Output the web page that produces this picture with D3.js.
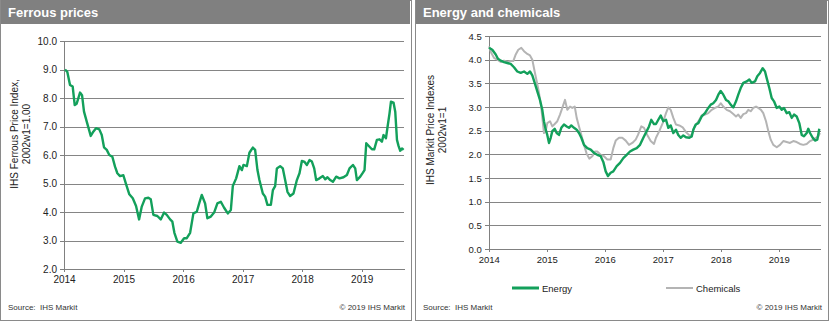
<!DOCTYPE html>
<html>
<head>
<meta charset="utf-8">
<script src="https://cdn.jsdelivr.net/npm/d3@7"></script>
<style>
  body { margin: 0; background: #fff; }
  text { font-family: Arial, "Liberation Sans", sans-serif; }
</style>
</head>
<body>
<div id="chart"></div>
<script>
// 1. Data
const yearTicks = [2014, 2015, 2016, 2017, 2018, 2019];
const ferrousTicks = [2, 3, 4, 5, 6, 7, 8, 9, 10];
const energyTicks = [0, 0.5, 1, 1.5, 2, 2.5, 3, 3.5, 4, 4.5];

// [decimal year, index value]
const ferrous = [
  [2014.017, 9.0], [2014.055, 8.92], [2014.101, 8.46], [2014.146, 8.4], [2014.180, 7.75],
  [2014.213, 7.8], [2014.269, 8.19], [2014.303, 8.1], [2014.336, 7.52], [2014.382, 7.17],
  [2014.449, 6.67], [2014.492, 6.82], [2014.538, 6.94], [2014.593, 6.9], [2014.634, 6.7],
  [2014.672, 6.27], [2014.718, 6.18], [2014.761, 6.0], [2014.812, 5.94], [2014.857, 5.59],
  [2014.896, 5.36], [2014.941, 5.26], [2014.997, 5.29], [2015.042, 4.98], [2015.097, 4.62],
  [2015.155, 4.48], [2015.210, 4.21], [2015.261, 3.74], [2015.306, 4.19], [2015.361, 4.48],
  [2015.417, 4.5], [2015.457, 4.45], [2015.501, 3.9], [2015.568, 3.86], [2015.625, 3.74],
  [2015.681, 3.98], [2015.726, 3.9], [2015.782, 3.74], [2015.820, 3.66], [2015.854, 3.27],
  [2015.904, 2.96], [2015.961, 2.92], [2016.017, 3.08], [2016.062, 3.08], [2016.118, 3.27],
  [2016.173, 3.95], [2016.230, 4.01], [2016.274, 4.33], [2016.314, 4.6], [2016.370, 4.3],
  [2016.408, 3.78], [2016.466, 3.84], [2016.521, 3.98], [2016.576, 4.3], [2016.634, 4.36],
  [2016.689, 4.15], [2016.751, 3.95], [2016.802, 4.07], [2016.835, 4.91], [2016.891, 5.18],
  [2016.946, 5.61], [2016.987, 5.47], [2017.013, 5.65], [2017.071, 5.61], [2017.114, 6.08],
  [2017.171, 6.26], [2017.210, 6.18], [2017.249, 5.47], [2017.282, 5.12], [2017.339, 4.65],
  [2017.378, 4.54], [2017.417, 4.25], [2017.474, 4.25], [2017.508, 4.77], [2017.546, 4.91],
  [2017.575, 5.53], [2017.630, 5.61], [2017.675, 5.53], [2017.714, 5.12], [2017.753, 4.71],
  [2017.798, 4.56], [2017.854, 4.65], [2017.911, 5.12], [2017.955, 5.36], [2017.995, 5.79],
  [2018.034, 5.77], [2018.079, 5.65], [2018.123, 5.82], [2018.163, 5.77], [2018.202, 5.53],
  [2018.235, 5.12], [2018.291, 5.18], [2018.348, 5.26], [2018.387, 5.15], [2018.425, 5.22],
  [2018.471, 5.12], [2018.516, 5.06], [2018.571, 5.24], [2018.627, 5.18], [2018.694, 5.22],
  [2018.751, 5.3], [2018.795, 5.53], [2018.852, 5.65], [2018.891, 5.53], [2018.919, 5.12],
  [2018.975, 5.24], [2019.020, 5.38], [2019.047, 5.47], [2019.076, 6.41], [2019.131, 6.29],
  [2019.171, 6.2], [2019.210, 6.2], [2019.255, 6.53], [2019.299, 6.55], [2019.339, 6.47],
  [2019.366, 6.7], [2019.407, 6.59], [2019.434, 6.99], [2019.467, 7.46], [2019.491, 7.87],
  [2019.534, 7.84], [2019.563, 7.52], [2019.592, 6.53], [2019.618, 6.32], [2019.647, 6.15],
  [2019.676, 6.23], [2019.703, 6.18]
];

const energy = [
  [2014.005, 4.25], [2014.062, 4.21], [2014.121, 4.11], [2014.160, 4.02], [2014.207, 3.98],
  [2014.264, 3.95], [2014.321, 3.93], [2014.379, 3.91], [2014.436, 3.84], [2014.493, 3.75],
  [2014.552, 3.72], [2014.609, 3.75], [2014.666, 3.70], [2014.712, 3.75], [2014.752, 3.67],
  [2014.793, 3.51], [2014.838, 3.33], [2014.884, 3.15], [2014.924, 2.94], [2014.953, 2.70],
  [2014.983, 2.52], [2015.010, 2.41], [2015.040, 2.24], [2015.069, 2.35], [2015.097, 2.49],
  [2015.138, 2.54], [2015.172, 2.45], [2015.212, 2.41], [2015.252, 2.56], [2015.298, 2.63],
  [2015.345, 2.59], [2015.384, 2.56], [2015.424, 2.61], [2015.471, 2.56], [2015.517, 2.52],
  [2015.557, 2.45], [2015.597, 2.35], [2015.643, 2.20], [2015.700, 2.13], [2015.759, 2.10],
  [2015.816, 2.03], [2015.872, 1.99], [2015.931, 1.96], [2015.976, 1.84], [2016.017, 1.64],
  [2016.057, 1.54], [2016.103, 1.61], [2016.148, 1.64], [2016.207, 1.75], [2016.264, 1.82],
  [2016.321, 1.92], [2016.379, 1.99], [2016.436, 2.06], [2016.493, 2.10], [2016.552, 2.13],
  [2016.609, 2.20], [2016.666, 2.35], [2016.724, 2.49], [2016.764, 2.59], [2016.803, 2.73],
  [2016.850, 2.64], [2016.884, 2.64], [2016.924, 2.73], [2016.966, 2.82], [2017.010, 2.70],
  [2017.057, 2.73], [2017.097, 2.56], [2017.138, 2.61], [2017.183, 2.45], [2017.229, 2.52],
  [2017.269, 2.41], [2017.310, 2.35], [2017.355, 2.40], [2017.402, 2.36], [2017.459, 2.35],
  [2017.500, 2.38], [2017.528, 2.52], [2017.569, 2.63], [2017.614, 2.66], [2017.672, 2.80],
  [2017.729, 2.87], [2017.786, 2.98], [2017.828, 3.05], [2017.872, 3.08], [2017.919, 3.15],
  [2017.959, 3.26], [2018.000, 3.34], [2018.045, 3.26], [2018.091, 3.15], [2018.131, 3.12],
  [2018.172, 3.05], [2018.217, 2.99], [2018.264, 3.12], [2018.303, 3.26], [2018.345, 3.40],
  [2018.390, 3.51], [2018.448, 3.54], [2018.493, 3.58], [2018.534, 3.51], [2018.591, 3.54],
  [2018.631, 3.65], [2018.678, 3.72], [2018.724, 3.82], [2018.764, 3.75], [2018.793, 3.61],
  [2018.838, 3.40], [2018.879, 3.19], [2018.919, 3.12], [2018.966, 2.98], [2019.010, 3.01],
  [2019.052, 2.94], [2019.091, 2.98], [2019.138, 2.87], [2019.183, 2.89], [2019.224, 2.77],
  [2019.264, 2.84], [2019.310, 2.80], [2019.355, 2.66], [2019.397, 2.41], [2019.436, 2.38],
  [2019.483, 2.45], [2019.510, 2.54], [2019.540, 2.45], [2019.586, 2.35], [2019.626, 2.29],
  [2019.666, 2.31], [2019.700, 2.54]
];

const chemicals = [
  [2014.005, 4.28], [2014.045, 4.14], [2014.091, 4.04], [2014.148, 4.0], [2014.207, 3.95],
  [2014.264, 3.98], [2014.321, 3.95], [2014.379, 3.97], [2014.424, 3.97], [2014.466, 4.11],
  [2014.510, 4.21], [2014.562, 4.25], [2014.609, 4.18], [2014.666, 4.12], [2014.712, 4.09],
  [2014.752, 4.0], [2014.781, 3.82], [2014.828, 3.54], [2014.867, 3.30], [2014.907, 2.98],
  [2014.931, 2.70], [2014.953, 2.45], [2014.983, 2.49], [2015.010, 2.66], [2015.057, 2.70],
  [2015.097, 2.59], [2015.138, 2.64], [2015.183, 2.70], [2015.229, 2.84], [2015.269, 2.98],
  [2015.316, 3.15], [2015.355, 2.94], [2015.402, 3.01], [2015.441, 2.98], [2015.483, 3.01],
  [2015.517, 2.77], [2015.557, 2.59], [2015.597, 2.41], [2015.643, 2.20], [2015.690, 2.01],
  [2015.734, 1.91], [2015.786, 1.96], [2015.833, 2.06], [2015.872, 2.06], [2015.931, 1.99],
  [2015.988, 1.96], [2016.045, 1.89], [2016.103, 1.89], [2016.148, 2.13], [2016.190, 2.29],
  [2016.247, 2.35], [2016.303, 2.35], [2016.362, 2.29], [2016.419, 2.20], [2016.476, 2.24],
  [2016.534, 2.31], [2016.574, 2.41], [2016.631, 2.59], [2016.678, 2.56], [2016.734, 2.41],
  [2016.793, 2.28], [2016.850, 2.22], [2016.884, 2.35], [2016.941, 2.49], [2017.000, 2.66],
  [2017.057, 2.87], [2017.097, 2.99], [2017.138, 2.94], [2017.183, 2.77], [2017.229, 2.63],
  [2017.286, 2.61], [2017.345, 2.57], [2017.402, 2.47], [2017.459, 2.40], [2017.500, 2.41],
  [2017.540, 2.56], [2017.586, 2.64], [2017.631, 2.73], [2017.672, 2.82], [2017.729, 2.84],
  [2017.786, 2.87], [2017.845, 2.94], [2017.902, 2.98], [2017.959, 3.01], [2018.000, 3.08],
  [2018.045, 3.01], [2018.103, 2.94], [2018.160, 2.91], [2018.217, 2.85], [2018.264, 2.80],
  [2018.303, 2.84], [2018.345, 2.77], [2018.390, 2.85], [2018.436, 2.87], [2018.476, 2.94],
  [2018.517, 2.91], [2018.562, 2.98], [2018.609, 3.01], [2018.648, 2.98], [2018.695, 2.94],
  [2018.734, 2.87], [2018.781, 2.70], [2018.821, 2.49], [2018.862, 2.31], [2018.907, 2.20],
  [2018.966, 2.15], [2019.022, 2.20], [2019.079, 2.28], [2019.138, 2.26], [2019.195, 2.24],
  [2019.252, 2.28], [2019.310, 2.26], [2019.367, 2.22], [2019.424, 2.20], [2019.483, 2.22],
  [2019.540, 2.28], [2019.597, 2.31], [2019.643, 2.35], [2019.683, 2.38], [2019.712, 2.45]
];

const GREEN = "#13a05b";
const GREY_LINE = "#b4b4b4";

// 2. Dimensions
const width = 834;
const height = 325;

const svg = d3
  .select("#chart")
  .append("svg")
  .attr("width", width)
  .attr("height", height);

function drawPanel(p) {
  const g = svg.append("g");

  // frame + title bar
  g.append("rect")
    .attr("x", p.frame[0] + 0.5)
    .attr("y", 0.5)
    .attr("width", p.frame[1] - p.frame[0])
    .attr("height", 320)
    .attr("fill", "#fff")
    .attr("stroke", "#8a8a8a");
  g.append("rect")
    .attr("x", p.frame[0] + 1)
    .attr("y", 0)
    .attr("width", p.frame[1] - p.frame[0] - 2)
    .attr("height", 24)
    .attr("fill", "#808080");
  g.append("text")
    .attr("x", p.frame[0] + 8)
    .attr("y", 17)
    .attr("fill", "#fff")
    .style("font-size", "13px")
    .style("font-weight", "bold")
    .text(p.title);

  // scales
  const x = d3.scaleLinear().domain(p.xDomain).range(p.xRange);
  const y = d3.scaleLinear().domain(p.yDomain).range(p.yRange);
  const plotW = p.xRange[1] - p.xRange[0];

  // gridlines
  g.append("g")
    .attr("transform", `translate(${p.xRange[0]},0)`)
    .call(d3.axisLeft(y).tickValues(p.yTicks).tickSize(-plotW).tickFormat(""))
    .call((s) => s.select(".domain").remove())
    .call((s) => s.selectAll("line").attr("stroke", "#858585").attr("shape-rendering", "crispEdges"));

  // y axis
  g.append("g")
    .attr("transform", `translate(${p.xRange[0]},0)`)
    .call(d3.axisLeft(y).tickValues(p.yTicks).tickSize(4).tickPadding(3).tickFormat(d3.format(".1f")))
    .call((s) => s.selectAll("path,line").attr("stroke", "#808080").attr("shape-rendering", "crispEdges"))
    .call((s) => s.selectAll("text").attr("fill", "#222").style("font-size", p.tickFont).style("font-family", "Arial, 'Liberation Sans', sans-serif"));

  // x axis
  g.append("g")
    .attr("transform", `translate(0,${p.yRange[0]})`)
    .call(d3.axisBottom(x).tickValues(yearTicks).tickSize(3).tickPadding(4).tickSizeOuter(0).tickFormat(d3.format("d")))
    .call((s) => s.selectAll("path,line").attr("stroke", "#808080").attr("shape-rendering", "crispEdges"))
    .call((s) => s.selectAll("text").attr("fill", "#222").style("font-size", p.tickFont).style("font-family", "Arial, 'Liberation Sans', sans-serif"));

  // y label
  const yl = g.append("text")
    .attr("transform", `translate(${p.yLabelX},${p.yLabelY}) rotate(-90)`)
    .attr("text-anchor", "middle")
    .attr("fill", "#222")
    .style("font-size", "10px");
  p.yLabel.forEach((t, i) => {
    yl.append("tspan").attr("x", 0).attr("dy", i === 0 ? 0 : 12).text(t);
  });

  // lines
  const line = d3.line().x((d) => x(d[0])).y((d) => y(d[1]));
  p.series.forEach((s) => {
    g.append("path")
      .datum(s.data)
      .attr("d", line)
      .attr("fill", "none")
      .attr("stroke", s.color)
      .attr("stroke-width", s.width)
      .attr("stroke-linejoin", "round");
  });

  // footer
  g.append("text")
    .attr("x", p.frame[0] + 8)
    .attr("y", 310)
    .attr("fill", "#333")
    .style("font-size", "8px")
    .style("white-space", "pre")
    .text("Source:  IHS Markit");
  g.append("text")
    .attr("x", p.frame[1] - 6)
    .attr("y", 310)
    .attr("text-anchor", "end")
    .attr("fill", "#333")
    .style("font-size", "8px")
    .text("© 2019 IHS Markit");

  return { g, x, y };
}

// 3. Left panel
drawPanel({
  frame: [0, 411],
  title: "Ferrous prices",
  xDomain: [2014, 2019.71],
  xRange: [64, 404],
  yDomain: [2, 10],
  yRange: [269, 41],
  yTicks: ferrousTicks,
  tickFont: "10px",
  yLabel: ["IHS Ferrous Price Index,", "2002w1=1.00"],
  yLabelX: 18,
  yLabelY: 134,
  series: [{ data: ferrous, color: GREEN, width: 2.4 }],
});

// 4. Right panel
const right = drawPanel({
  frame: [415, 828],
  title: "Energy and chemicals",
  xDomain: [2014, 2019.724],
  xRange: [488.7, 820.7],
  yDomain: [0, 4.5],
  yRange: [249, 36],
  yTicks: energyTicks,
  tickFont: "9.5px",
  yLabel: ["IHS Markit Price Indexes", "2002w1=1"],
  yLabelX: 434,
  yLabelY: 130,
  series: [
    { data: chemicals, color: GREY_LINE, width: 2 },
    { data: energy, color: GREEN, width: 2.4 },
  ],
});

// legend
const legendItems = [
  { label: "Energy", color: GREEN, width: 3, x: 512 },
  { label: "Chemicals", color: GREY_LINE, width: 2, x: 666 },
];
const legend = right.g.append("g").attr("transform", "translate(0,288)");
legend.selectAll("line")
  .data(legendItems)
  .join("line")
  .attr("x1", (d) => d.x)
  .attr("x2", (d) => d.x + 27)
  .attr("stroke", (d) => d.color)
  .attr("stroke-width", (d) => d.width);
legend.selectAll("text")
  .data(legendItems)
  .join("text")
  .attr("x", (d) => d.x + 30)
  .attr("y", 3.5)
  .attr("fill", "#222")
  .style("font-size", "9.5px")
  .text((d) => d.label);
</script>
</body>
</html>
